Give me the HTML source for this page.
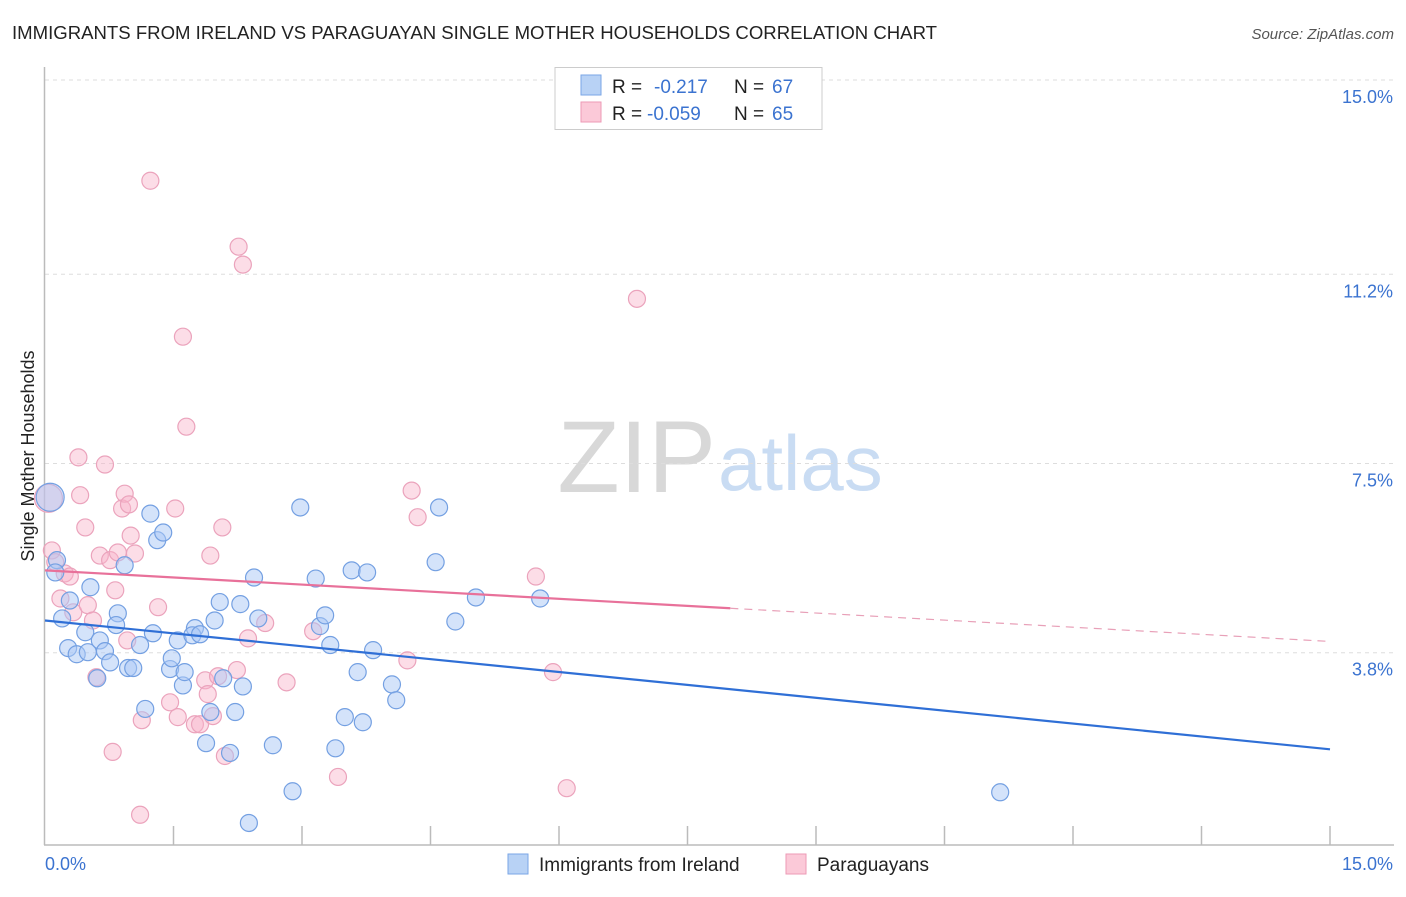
<!DOCTYPE html>
<html><head><meta charset="utf-8"><style>
body{margin:0;background:#fff;font-family:"Liberation Sans",sans-serif}
svg text{font-family:"Liberation Sans",sans-serif}
</style></head><body>
<svg id="chart" width="1406" height="892" viewBox="0 0 1406 892">
<text x="12" y="39" font-size="18" fill="#222" textLength="925" lengthAdjust="spacingAndGlyphs">IMMIGRANTS FROM IRELAND VS PARAGUAYAN SINGLE MOTHER HOUSEHOLDS CORRELATION CHART</text>
<text x="1394" y="39" font-size="15" fill="#555" font-style="italic" text-anchor="end">Source: ZipAtlas.com</text>
<text x="716" y="492" font-size="102" fill="#d8d8d8" text-anchor="end" font-family="Liberation Serif">ZIP</text>
<text x="718" y="490" font-size="78" fill="#c9dcf3">atlas</text>
<g id="grid"></g>
<g id="axes"></g>
<g id="pts"></g>
<g id="trends"></g>
<text transform="translate(34,456) rotate(-90)" font-size="18" fill="#222" text-anchor="middle">Single Mother Households</text>
<g>
<rect x="555" y="67.5" width="267" height="62" fill="#fff" stroke="#ccc"/>
<rect x="581" y="75" width="20" height="20" fill="#b8d2f5" stroke="#7aa6e6"/>
<rect x="581" y="102" width="20" height="20" fill="#fbc9d8" stroke="#ec9ab6"/>
<text x="612" y="93" font-size="19" fill="#222">R = </text><text x="654" y="93" font-size="19" fill="#3b73d0">-0.217</text>
<text x="734" y="93" font-size="19" fill="#222">N = </text><text x="772" y="93" font-size="19" fill="#3b73d0">67</text>
<text x="612" y="120" font-size="19" fill="#222">R = </text><text x="647" y="120" font-size="19" fill="#3b73d0">-0.059</text>
<text x="734" y="120" font-size="19" fill="#222">N = </text><text x="772" y="120" font-size="19" fill="#3b73d0">65</text>
</g>
<g>
<rect x="508" y="854" width="20" height="20" fill="#b8d2f5" stroke="#7aa6e6"/>
<text x="539" y="871" font-size="19" fill="#222">Immigrants from Ireland</text>
<rect x="786" y="854" width="20" height="20" fill="#fbc9d8" stroke="#ec9ab6"/>
<text x="817" y="871" font-size="19" fill="#222">Paraguayans</text>
</g>
</svg>
<script>
const blueX=[0.06,0.14,0.12,0.20,0.29,0.27,0.37,0.47,0.50,0.53,0.61,0.64,0.70,0.76,0.85,0.83,0.93,0.97,1.03,1.11,1.17,1.23,1.26,1.31,1.38,1.46,1.48,1.55,1.61,1.63,1.75,1.72,1.81,1.88,1.93,1.98,2.04,2.08,2.16,2.22,2.28,2.31,2.38,2.44,2.49,2.66,2.89,2.98,3.16,3.21,3.27,3.33,3.50,3.39,3.58,3.65,3.71,3.76,3.83,4.05,4.10,4.56,4.60,4.79,5.03,5.78,11.15];
const blueY=[6.84,5.61,5.37,4.47,4.82,3.89,3.77,4.20,3.81,5.08,3.30,4.04,3.83,3.61,4.57,4.34,5.51,3.50,3.50,3.95,2.70,6.52,4.18,6.00,6.15,3.48,3.69,4.04,3.16,3.42,4.28,4.14,4.16,2.03,2.64,4.43,4.79,3.30,1.84,2.64,4.75,3.14,0.47,5.27,4.47,1.99,1.09,6.64,5.25,4.32,4.53,3.95,2.54,1.93,5.41,3.42,2.44,5.37,3.85,3.18,2.87,5.57,6.64,4.41,4.88,4.86,1.07];
const pinkX=[0.04,0.08,0.12,0.18,0.23,0.29,0.33,0.39,0.41,0.47,0.50,0.56,0.60,0.64,0.70,0.76,0.79,0.82,0.85,0.90,0.93,0.96,0.98,1.00,1.05,1.11,1.13,1.23,1.32,1.46,1.52,1.55,1.61,1.65,1.75,1.81,1.87,1.90,1.93,1.96,2.02,2.07,2.10,2.24,2.26,2.31,2.37,2.57,2.82,3.13,3.42,4.23,4.28,4.35,5.73,5.93,6.09,6.91];
const pinkY=[6.82,5.80,5.57,4.86,5.35,5.29,4.59,7.62,6.88,6.25,4.73,4.43,3.32,5.70,7.48,5.61,1.86,5.02,5.76,6.62,6.91,4.04,6.70,6.09,5.74,0.63,2.48,13.03,4.69,2.83,6.62,2.54,9.98,8.22,2.40,2.40,3.26,2.99,5.70,2.56,3.34,6.25,1.78,3.46,11.74,11.39,4.08,4.38,3.22,4.22,1.37,3.65,6.97,6.45,5.29,3.42,1.15,10.72];
const blueTrend=[4.43,1.91];
const pinkTrend=[5.41,4.02];
const pinkSolidEnd=8.0;
const yTicks=[3.8,7.5,11.2,15.0];
const yTickLabels=["3.8%","7.5%","11.2%","15.0%"];
const xTickCount=10;
const NS="http://www.w3.org/2000/svg";
const X=v=>45+v*(1285/15), Y=v=>847-v*(767/15);
function mk(tag,at,parent){const e=document.createElementNS(NS,tag);for(const k in at)e.setAttribute(k,at[k]);parent.appendChild(e);return e;}
const grid=document.getElementById('grid'),axes=document.getElementById('axes'),pts=document.getElementById('pts'),tr=document.getElementById('trends');
yTicks.forEach((t,i)=>{
 const l=mk('line',{x1:45,x2:1394,y1:Y(t),y2:Y(t),stroke:'#ddd','stroke-dasharray':'4,4'},grid);
 
 
 const tx=mk('text',{x:1393,y:Y(t)+23,'font-size':18,fill:'#3b73d0','text-anchor':'end'},axes);
 tx.textContent=yTickLabels[i];
 
 
});
const ya=mk('line',{x1:44.5,x2:44.5,y1:67,y2:845,stroke:'#bbb','stroke-width':1.5},axes);


const xa=mk('line',{x1:44,x2:1394,y1:845,y2:845,stroke:'#bbb','stroke-width':1.5},axes);


for(let i=1;i<=xTickCount;i++){
 const t=mk('line',{x1:X(i*1.5),x2:X(i*1.5),y1:826,y2:845,stroke:'#bbb','stroke-width':1.5},axes);
 
 
}
const x0=mk('text',{x:45,y:870,'font-size':18,fill:'#3b73d0'},axes);x0.textContent='0.0%';


const x1=mk('text',{x:1393,y:870,'font-size':18,fill:'#3b73d0','text-anchor':'end'},axes);x1.textContent='15.0%';


function dots(xs,ys,fill,stroke,name){
 xs.forEach((x,i)=>{
  const c=mk('circle',{cx:X(x),cy:Y(ys[i]),r:i===0?14:8.5,fill:fill,stroke:stroke,'stroke-width':1.2},pts);
  
  
 });
}
dots(pinkX,pinkY,'rgba(248,180,202,0.45)','#eba3bc','paraguayans-point');
dots(blueX,blueY,'rgba(170,200,245,0.5)','#74a0e2','ireland-point');
const bl=mk('line',{x1:X(0),y1:Y(blueTrend[0]),x2:X(15),y2:Y(blueTrend[1]),stroke:'#2f6fd6','stroke-width':2.2},tr);


const pm=pinkTrend[0]+(pinkTrend[1]-pinkTrend[0])*pinkSolidEnd/15;
const pl=mk('line',{x1:X(0),y1:Y(pinkTrend[0]),x2:X(pinkSolidEnd),y2:Y(pm),stroke:'#e8719a','stroke-width':2.2},tr);


const pd=mk('line',{x1:X(pinkSolidEnd),y1:Y(pm),x2:X(15),y2:Y(pinkTrend[1]),stroke:'#e8a0b8','stroke-width':1.2,'stroke-dasharray':'8,6'},tr);


</script>
</body></html>
